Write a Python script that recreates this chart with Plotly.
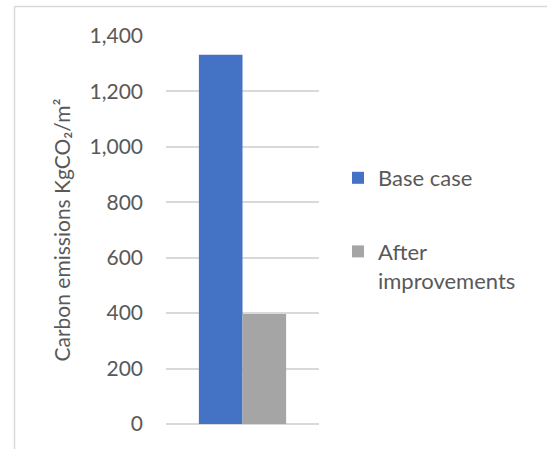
import plotly.graph_objects as go

# Carbon emissions per square metre, before and after improvements
categories = [""]
series_names = ["Base case", "After improvements"]
legend_labels = ["Base case", "After<br>improvements"]
base_case = [1332]
after_improvements = [397]
y_ticks = [0, 200, 400, 600, 800, 1000, 1200, 1400]
y_tick_labels = ["0", "200", "400", "600", "800", "1,000", "1,200", "1,400"]

colors = ["#4472C4", "#A5A5A5"]
text_color = "#595959"
grid_color = "#D9D9D9"
font_family = "Lato, Carlito, Calibri, sans-serif"

W, H = 547, 449
margin = dict(l=166, r=228, t=36, b=25)

fig = go.Figure()
for name, label, vals, col in zip(series_names, legend_labels,
                                  [base_case, after_improvements], colors):
    fig.add_trace(go.Bar(
        x=categories, y=vals, name=label, legendgroup=name,
        marker=dict(color=col, line=dict(width=0)),
        hoverinfo="y",
    ))

plot_w = W - margin["l"] - margin["r"]
plot_h = H - margin["t"] - margin["b"]


def px_x(p):
    return (p - margin["l"]) / plot_w


def px_y(p):
    return (H - margin["b"] - p) / plot_h


# Chart-area frame (top and left edges)
frame = dict(color=grid_color, width=1.5)
shapes = [
    dict(type="line", xref="paper", yref="paper",
         x0=px_x(14.5), x1=px_x(W + 5), y0=px_y(6.5), y1=px_y(6.5), line=frame),
    dict(type="line", xref="paper", yref="paper",
         x0=px_x(14.5), x1=px_x(14.5), y0=px_y(6.5), y1=px_y(H + 5), line=frame),
]

fig.update_layout(
    width=W, height=H,
    margin=margin,
    paper_bgcolor="white", plot_bgcolor="white",
    font=dict(family=font_family, size=22, color=text_color),
    barmode="group", bargap=0.43, bargroupgap=0,
    showlegend=True,
    legend=dict(
        x=px_x(338), y=px_y(157), xanchor="left", yanchor="top",
        valign="top", tracegroupgap=42,
        bgcolor="rgba(0,0,0,0)",
        font=dict(family=font_family, size=22, color=text_color),
    ),
    shapes=shapes,
    xaxis=dict(showticklabels=False, showgrid=False, zeroline=False,
               showline=False, ticks=""),
    yaxis=dict(
        range=[0, 1400], tickvals=y_ticks, ticktext=y_tick_labels,
        showgrid=True, gridcolor=grid_color, gridwidth=1.5,
        zeroline=True, zerolinecolor=grid_color, zerolinewidth=1.5,
        showline=False, ticks="", ticklabelstandoff=22,
        tickfont=dict(family=font_family, size=21, color=text_color),
        title=dict(text="Carbon emissions KgCO₂/m²", standoff=13,
                   font=dict(family=font_family, size=21, color=text_color)),
    ),
)

fig.write_html("out.html")
